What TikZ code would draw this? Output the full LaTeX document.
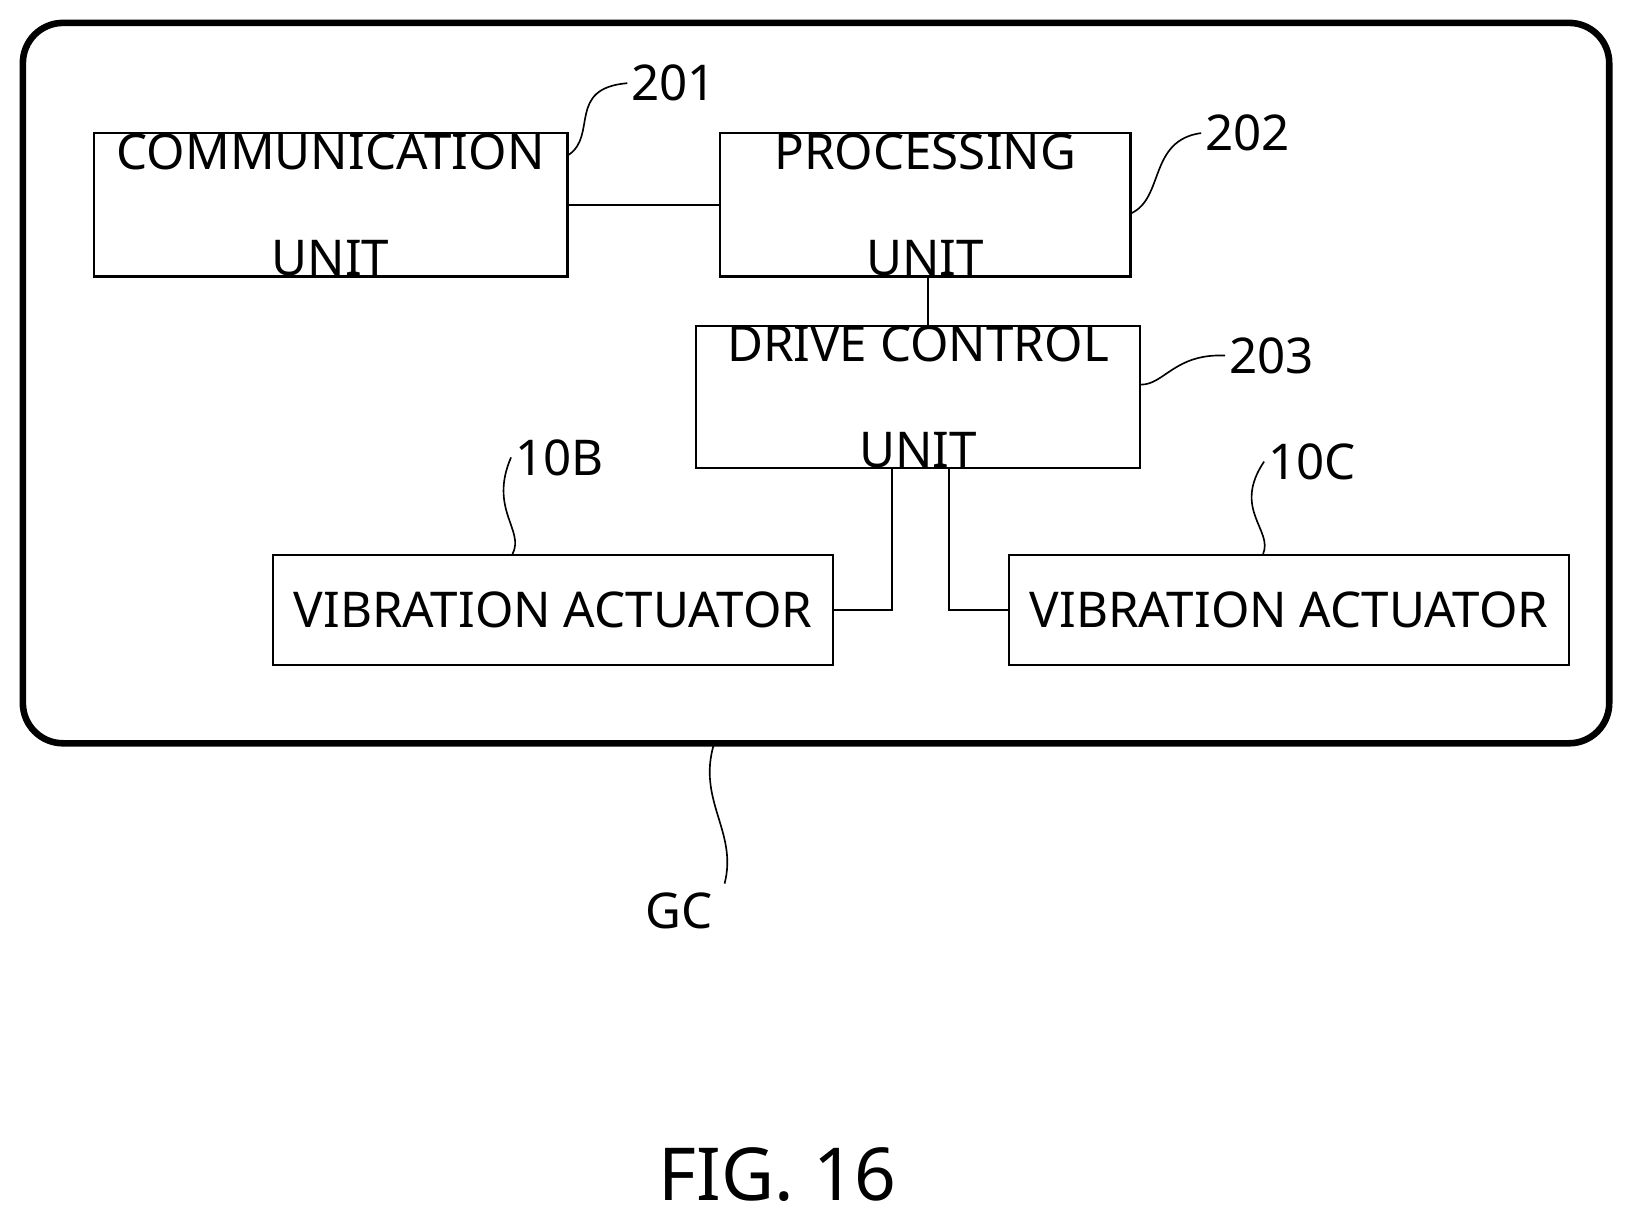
\documentclass[tikz,border=0pt]{standalone}
\usepackage{fontspec}
\setmainfont{Noto Sans}
\usetikzlibrary{positioning}
\tikzset{
unit/.style={draw, line width=1.2pt, inner sep=0pt, align=center, font=\fontsize{27}{58}\selectfont},
lead/.style={line width=0.9pt},
ref/.style={font=\fontsize{27}{32}\selectfont, inner sep=2pt}
}
\begin{document}
\begin{tikzpicture}[x=0.02cm, y=-0.02cm]
    \useasboundingbox (0,0) rectangle (1568,1174);
    % housing
    \draw [line width=3.6pt, rounded corners=22pt] (22,22) rectangle (1548,715);
    % units
    \node [unit, minimum width=9.12cm, minimum height=2.76cm] (comm) at (318,197) {COMMUNICATION\\UNIT};
    \node [unit, minimum width=7.9cm, minimum height=2.76cm] (proc) at (890,197) {PROCESSING\\UNIT};
    \node [unit, minimum width=8.54cm, minimum height=2.74cm] (drive) at (883,382) {DRIVE CONTROL\\UNIT};
    \node [unit, minimum width=10.78cm, minimum height=2.12cm] (actb) at (532,587) {VIBRATION ACTUATOR};
    \node [unit, minimum width=10.78cm, minimum height=2.12cm] (actc) at (1240,587) {VIBRATION ACTUATOR};
    % connections
    \draw [line width=1.2pt] (comm.east) -- (proc.west);
    \draw [line width=1.2pt] (proc.south -| 893,0) -- (drive.north -| 893,0);
    \draw [line width=1.2pt] (drive.south -| 858,0) |- (actb.east);
    \draw [line width=1.2pt] (drive.south -| 913,0) |- (actc.west);
    % reference labels
    \node [ref] (r201) at (648,80) {201};
    \node [ref] (r202) at (1200,128) {202};
    \node [ref] (r203) at (1223,342) {203};
    \node [ref] (r10b) at (538,440) {10B};
    \node [ref] (r10c) at (1262,444) {10C};
    \node [ref] (rgc) at (653,876) {GC};
    \draw [lead] (comm.north east) ++(0,22) .. controls (575,130) and (545,85) .. (r201.west);
    \draw [lead] (proc.east) ++(0,8) .. controls (1120,190) and (1105,135) .. (r202.west);
    \draw [lead] (drive.east) ++(0,-12) .. controls (1120,370) and (1130,340) .. (r203.west);
    \draw [lead] (actb.north) ++(-39,0) .. controls (505,510) and (470,490) .. (r10b.west);
    \draw [lead] (actc.north) ++(-25,0) .. controls (1225,510) and (1185,490) .. (r10c.west);
    \draw [lead] (687,715) .. controls (670,770) and (710,800) .. (697,850);
    % caption
    \node [font=\fontsize{40}{48}\selectfont] (fig) at (748,1130) {FIG. 16};
\end{tikzpicture}
\end{document}
